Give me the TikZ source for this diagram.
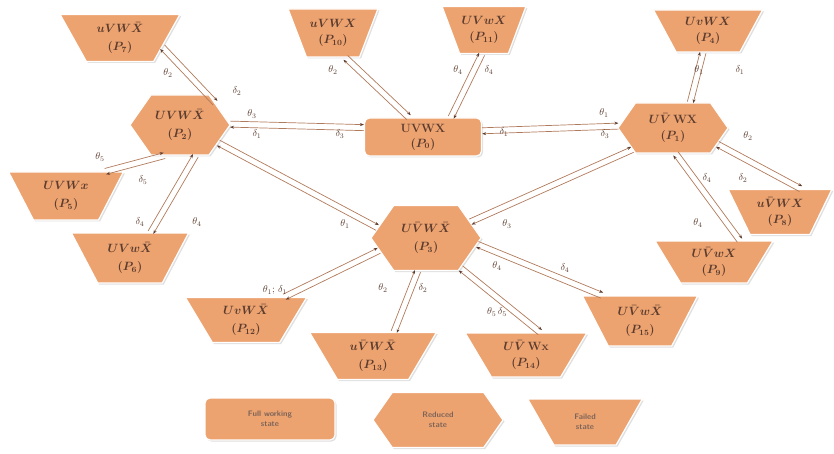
\documentclass[tikz,border=0pt]{standalone}
\usetikzlibrary{shapes.geometric,shapes.symbols,shadows,calc,arrows.meta}
\definecolor{stfill}{RGB}{236,163,112}
\definecolor{stline}{RGB}{176,122,92}
\definecolor{sttext}{RGB}{92,60,46}
\tikzset{
  base/.style={fill=stfill, draw=white, line width=1.2pt, text=sttext, align=center,
    font=\large\bfseries\boldmath, inner sep=1pt, drop shadow={opacity=0.25, shadow xshift=1.5pt, shadow yshift=-1.5pt}},
  full/.style={base, rectangle, rounded corners=5pt},
  reduced/.style={base, signal, signal to=east and west, signal pointer angle=110},
  failed/.style={base, trapezium, shape border rotate=180, trapezium angle=60, trapezium stretches=true},
  legend/.style={font=\sffamily\bfseries\footnotesize, text=sttext!80},
  tr/.style={stline, line width=0.7pt, -{Stealth[length=4pt,width=3pt,color=sttext]}},
  lbl/.style={text=sttext, font=\normalsize, inner sep=0.5pt},
}
% two opposite transitions between two states
\newcommand{\twoway}[2]{%
  \draw[tr] ($(#1)!3pt!90:(#2)$) -- ($(#2)!3pt!-90:(#1)$);
  \draw[tr] ($(#2)!3pt!90:(#1)$) -- ($(#1)!3pt!-90:(#2)$);}
\begin{document}
\begin{tikzpicture}[x=1pt,y=-1pt]
  \useasboundingbox (0,0) rectangle (834,454);

  % states
  \node[full, minimum width=117pt, minimum height=38pt] (p0) at (423,137) {UVWX\\[1pt]$(P_0)$};
  \node[reduced, minimum width=110pt, minimum height=50pt] (p1) at (673,128) {$U\bar{V}$\,WX\\[2pt]$(P_1)$};
  \node[reduced, minimum width=100pt, minimum height=60pt] (p2) at (180,125) {$UVW\bar{X}$\\[4pt]$(P_2)$};
  \node[reduced, minimum width=110pt, minimum height=65pt] (p3) at (426,238) {$U\bar{V}W\bar{X}$\\[4pt]$(P_3)$};
  \node[failed, minimum width=110pt, minimum height=42pt] (p4) at (708,31) {$UvWX$\\[2pt]$(P_4)$};
  \node[failed, minimum width=115pt, minimum height=48pt] (p5) at (66,196) {$UVWx$\\[4pt]$(P_5)$};
  \node[failed, minimum width=118pt, minimum height=50pt] (p6) at (130,258) {$UVw\bar{X}$\\[4pt]$(P_6)$};
  \node[failed, minimum width=120pt, minimum height=47pt] (p7) at (120,38) {$uVW\bar{X}$\\[4pt]$(P_7)$};
  \node[failed, minimum width=104pt, minimum height=45pt] (p8) at (780,212) {$u\bar{V}WX$\\[2pt]$(P_8)$};
  \node[failed, minimum width=118pt, minimum height=42pt] (p9) at (714,262) {$U\bar{V}wX$\\[2pt]$(P_9)$};
  \node[failed, minimum width=90pt, minimum height=48pt] (p10) at (333,33) {$uVWX$\\[2pt]$(P_{10})$};
  \node[failed, minimum width=84pt, minimum height=47pt] (p11) at (484,30) {$UVwX$\\[2pt]$(P_{11})$};
  \node[failed, minimum width=122pt, minimum height=45pt] (p12) at (246,320) {$UvW\bar{X}$\\[4pt]$(P_{12})$};
  \node[failed, minimum width=127pt, minimum height=47pt] (p13) at (373,356) {$u\bar{V}W\bar{X}$\\[4pt]$(P_{13})$};
  \node[failed, minimum width=122pt, minimum height=44pt] (p14) at (526,355) {$U\bar{V}$\,Wx\\[2pt]$(P_{14})$};
  \node[failed, minimum width=116pt, minimum height=50pt] (p15) at (640,321) {$U\bar{V}w\bar{X}$\\[4pt]$(P_{15})$};

  % legend
  \node[full, legend, minimum width=130pt, minimum height=42pt] (kfull) at (270,419) {Full working\\state};
  \node[reduced, legend, minimum width=130pt, minimum height=55pt] (kred) at (438,420) {Reduced\\state};
  \node[failed, legend, minimum width=115pt, minimum height=46pt] (kfail) at (585,422) {Failed\\state};

  % transitions
  \twoway{p7.-12}{p2.32}
  \twoway{p2.1}{p0.171}
  \twoway{p10.-63}{p0.126}
  \twoway{p11.-95}{p0.35}
  \twoway{p0.6}{p1.178}
  \twoway{p4.-103}{p1.56}
  \twoway{p1.-20}{p8.48}
  \twoway{p1.-84}{p9.40}
  \twoway{p1.208}{p3.20}
  \twoway{p2.-25}{p3.168}
  \twoway{p2.-117}{p5.32}
  \twoway{p2.-63}{p6.51}
  \twoway{p3.195}{p12.31}
  \twoway{p3.-104}{p13.49}
  \twoway{p3.-41}{p14.58}
  \twoway{p3.-7}{p15.146}

  % rates
  \node[lbl] (a1) at (168,73) {$\theta_2$};
  \node[lbl] (a2) at (237,91) {$\delta_2$};
  \node[lbl] (a3) at (252,114) {$\theta_3$};
  \node[lbl] (a4) at (257,134) {$\delta_1$};
  \node[lbl] (a5) at (340,134) {$\delta_3$};
  \node[lbl] (a6) at (333,70) {$\theta_2$};
  \node[lbl] (a7) at (458,70) {$\theta_4$};
  \node[lbl] (a8) at (489,70) {$\delta_4$};
  \node[lbl] (a9) at (504,132) {$\delta_1$};
  \node[lbl] (a10) at (604,113) {$\theta_1$};
  \node[lbl] (a11) at (605,134) {$\delta_3$};
  \node[lbl] (a12) at (699,70) {$\theta_1$};
  \node[lbl] (a13) at (740,70) {$\delta_1$};
  \node[lbl] (a14) at (748,136) {$\theta_2$};
  \node[lbl] (a15) at (743,178) {$\delta_2$};
  \node[lbl] (a16) at (707,178) {$\delta_4$};
  \node[lbl] (a17) at (698,223) {$\theta_4$};
  \node[lbl] (a18) at (507,224) {$\theta_3$};
  \node[lbl] (a19) at (345,224) {$\theta_1$};
  \node[lbl] (a20) at (100,157) {$\theta_5$};
  \node[lbl] (a21) at (143,180) {$\delta_5$};
  \node[lbl] (a22) at (140,222) {$\delta_4$};
  \node[lbl] (a23) at (197,222) {$\theta_4$};
  \node[lbl] (a24) at (275,290) {$\theta_1;\,\delta_1$};
  \node[lbl] (a25) at (383,288) {$\theta_2$};
  \node[lbl] (a26) at (423,288) {$\delta_2$};
  \node[lbl] (a27) at (497,312) {$\theta_5\,\delta_5$};
  \node[lbl] (a28) at (497,266) {$\theta_4$};
  \node[lbl] (a29) at (565,268) {$\delta_4$};
\end{tikzpicture}
\end{document}
